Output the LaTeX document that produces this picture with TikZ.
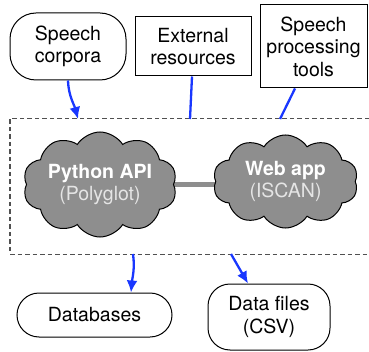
\documentclass[tikz,border=0pt]{standalone}
\usepackage{fontspec}
\setmainfont{TeX Gyre Heros}
\usetikzlibrary{shapes.symbols,arrows.meta,backgrounds}

\definecolor{linkblue}{RGB}{25,55,255}
\definecolor{cloudgray}{RGB}{142,142,142}
\definecolor{framegray}{RGB}{80,80,80}

\begin{document}
\begin{tikzpicture}[x=1pt,y=1pt,
  every node/.style={font=\fontsize{19.5}{22.5}\selectfont,align=center,inner sep=0pt},
  src/.style={draw,line width=1pt,fill=white},
  cloudbox/.style={cloud,cloud puffs=10,cloud puff arc=115,cloud ignores aspect,
                   draw,line width=1pt,fill=cloudgray,text=white},
  feed/.style={linkblue,line width=2.3pt},
  feedarrow/.style={feed,-{Latex[length=12pt,width=11pt]}}]
  \useasboundingbox (0,0) rectangle (369,351);

  % inputs
  \node[src,rounded corners=26pt,minimum width=116pt,minimum height=67pt] (corpora)   at (68,304.5)  {Speech\\corpora};
  \node[src,minimum width=116pt,minimum height=59pt]                      (external)  at (193,304.5) {External\\resources};
  \node[src,minimum width=107pt,minimum height=83pt]                      (tools)     at (313.5,304.5) {Speech\\processing\\tools};

  % system
  \node[minimum width=359pt,minimum height=135pt] (frame) at (189.5,164.5) {};
  \draw[framegray,line width=1.4pt,dash pattern=on 4.5pt off 3pt]
    (frame.north east) -- (frame.north west) -- (frame.south west) -- (frame.south east);

  \node[cloudbox,minimum width=154pt,minimum height=105pt] (python) at (100,166.5)
    {\textbf{Python API}\\\textcolor{white!90!black}{(Polyglot)}};
  \node[cloudbox,minimum width=145pt,minimum height=93pt]  (webapp) at (285.5,169.5)
    {\textbf{Web app}\\\textcolor{white!90!black}{(ISCAN)}};
  \begin{pgfonlayer}{background}
    \draw[cloudgray,line width=5pt] (python.center) -- (python.center -| webapp.center);
  \end{pgfonlayer}

  % outputs
  \node[src,rounded corners=22pt,minimum width=155pt,minimum height=44pt] (databases) at (94.5,36) {Databases};
  \node[src,rounded corners=22pt,minimum width=122pt,minimum height=66pt] (datafiles) at (269,34)  {Data files\\(CSV)};

  % connectors
  \coordinate (corporaIn)  at (78,232);
  \coordinate (externalIn) at (190,232);
  \coordinate (toolsIn)    at (280,232);
  \coordinate (dbOut)      at (133,97);
  \coordinate (filesOut)   at (231,97);

  \draw[feedarrow] (corpora.south) to[out=-88,in=105] (corporaIn);
  \draw[feed] (external.south -| 192,0) -- (externalIn);
  \draw[feed] (tools.south -| 295,0) -- (toolsIn);
  \draw[feedarrow] (dbOut) to[out=-82,in=85] (databases.north -| 131,0);
  \draw[feedarrow] (filesOut) -- (datafiles.north -| 248,0);
\end{tikzpicture}
\end{document}
